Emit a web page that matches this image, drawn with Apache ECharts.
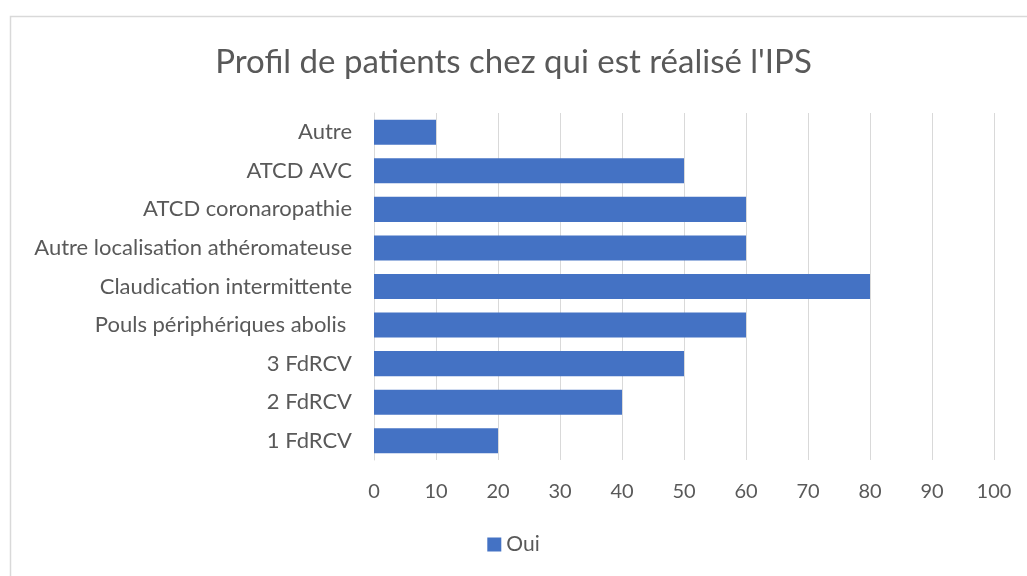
<!DOCTYPE html>
<html>
<head>
<meta charset="utf-8">
<script src="https://cdn.jsdelivr.net/npm/echarts@6/dist/echarts.min.js"></script>
<style>
  html, body { margin: 0; padding: 0; background: #fff; }
  #chart { width: 1027px; height: 576px; }
</style>
</head>
<body>
<div id="chart"></div>
<script>
const categories = ['1 FdRCV', '2 FdRCV', '3 FdRCV', 'Pouls périphériques abolis ', 'Claudication intermittente',
  'Autre localisation athéromateuse', 'ATCD coronaropathie', 'ATCD AVC', 'Autre'];
const oui = [20, 40, 50, 60, 80, 60, 60, 50, 10];
const xTicks = { min: 0, max: 100, interval: 10 };

const chart = echarts.init(document.getElementById('chart'), null, { renderer: 'canvas' });
const font = 'Lato';

const option = {
  animation: false,
  backgroundColor: '#fff',
  color: ['#4472C4'],
  title: {
    text: "Profil de patients chez qui est réalisé l'IPS",
    left: 'center',
    top: 41,
    textStyle: { fontFamily: font, fontSize: 33, fontWeight: 'normal', color: '#595959' }
  },
  legend: {
    bottom: 16,
    left: 'center',
    itemWidth: 14,
    itemHeight: 14,
    itemGap: 5,
    icon: 'rect',
    textStyle: { fontFamily: font, fontSize: 21, color: '#595959' },
    data: ['Oui']
  },
  grid: { left: 374, right: 33, top: 113, bottom: 116 },
  xAxis: {
    type: 'value',
    min: xTicks.min,
    max: xTicks.max,
    interval: xTicks.interval,
    axisLine: { show: false },
    axisTick: { show: false },
    splitLine: { lineStyle: { color: '#D9D9D9', width: 1 } },
    axisLabel: { fontFamily: font, fontSize: 20, color: '#595959', margin: 22 }
  },
  yAxis: {
    type: 'category',
    data: categories,
    axisLine: { lineStyle: { color: '#D9D9D9' } },
    axisTick: { show: false },
    axisLabel: { fontFamily: font, fontSize: 22, color: '#595959', margin: 22 }
  },
  series: [{
    name: 'Oui',
    type: 'bar',
    data: oui,
    barCategoryGap: '35%'
  }],
  graphic: [{
    type: 'rect',
    left: 8, top: 14,
    shape: { width: 1040, height: 600 },
    style: { fill: 'none', stroke: '#D9D9D9', lineWidth: 1.5 },
    silent: true
  }]
};
chart.setOption(option);
</script>
</body>
</html>
